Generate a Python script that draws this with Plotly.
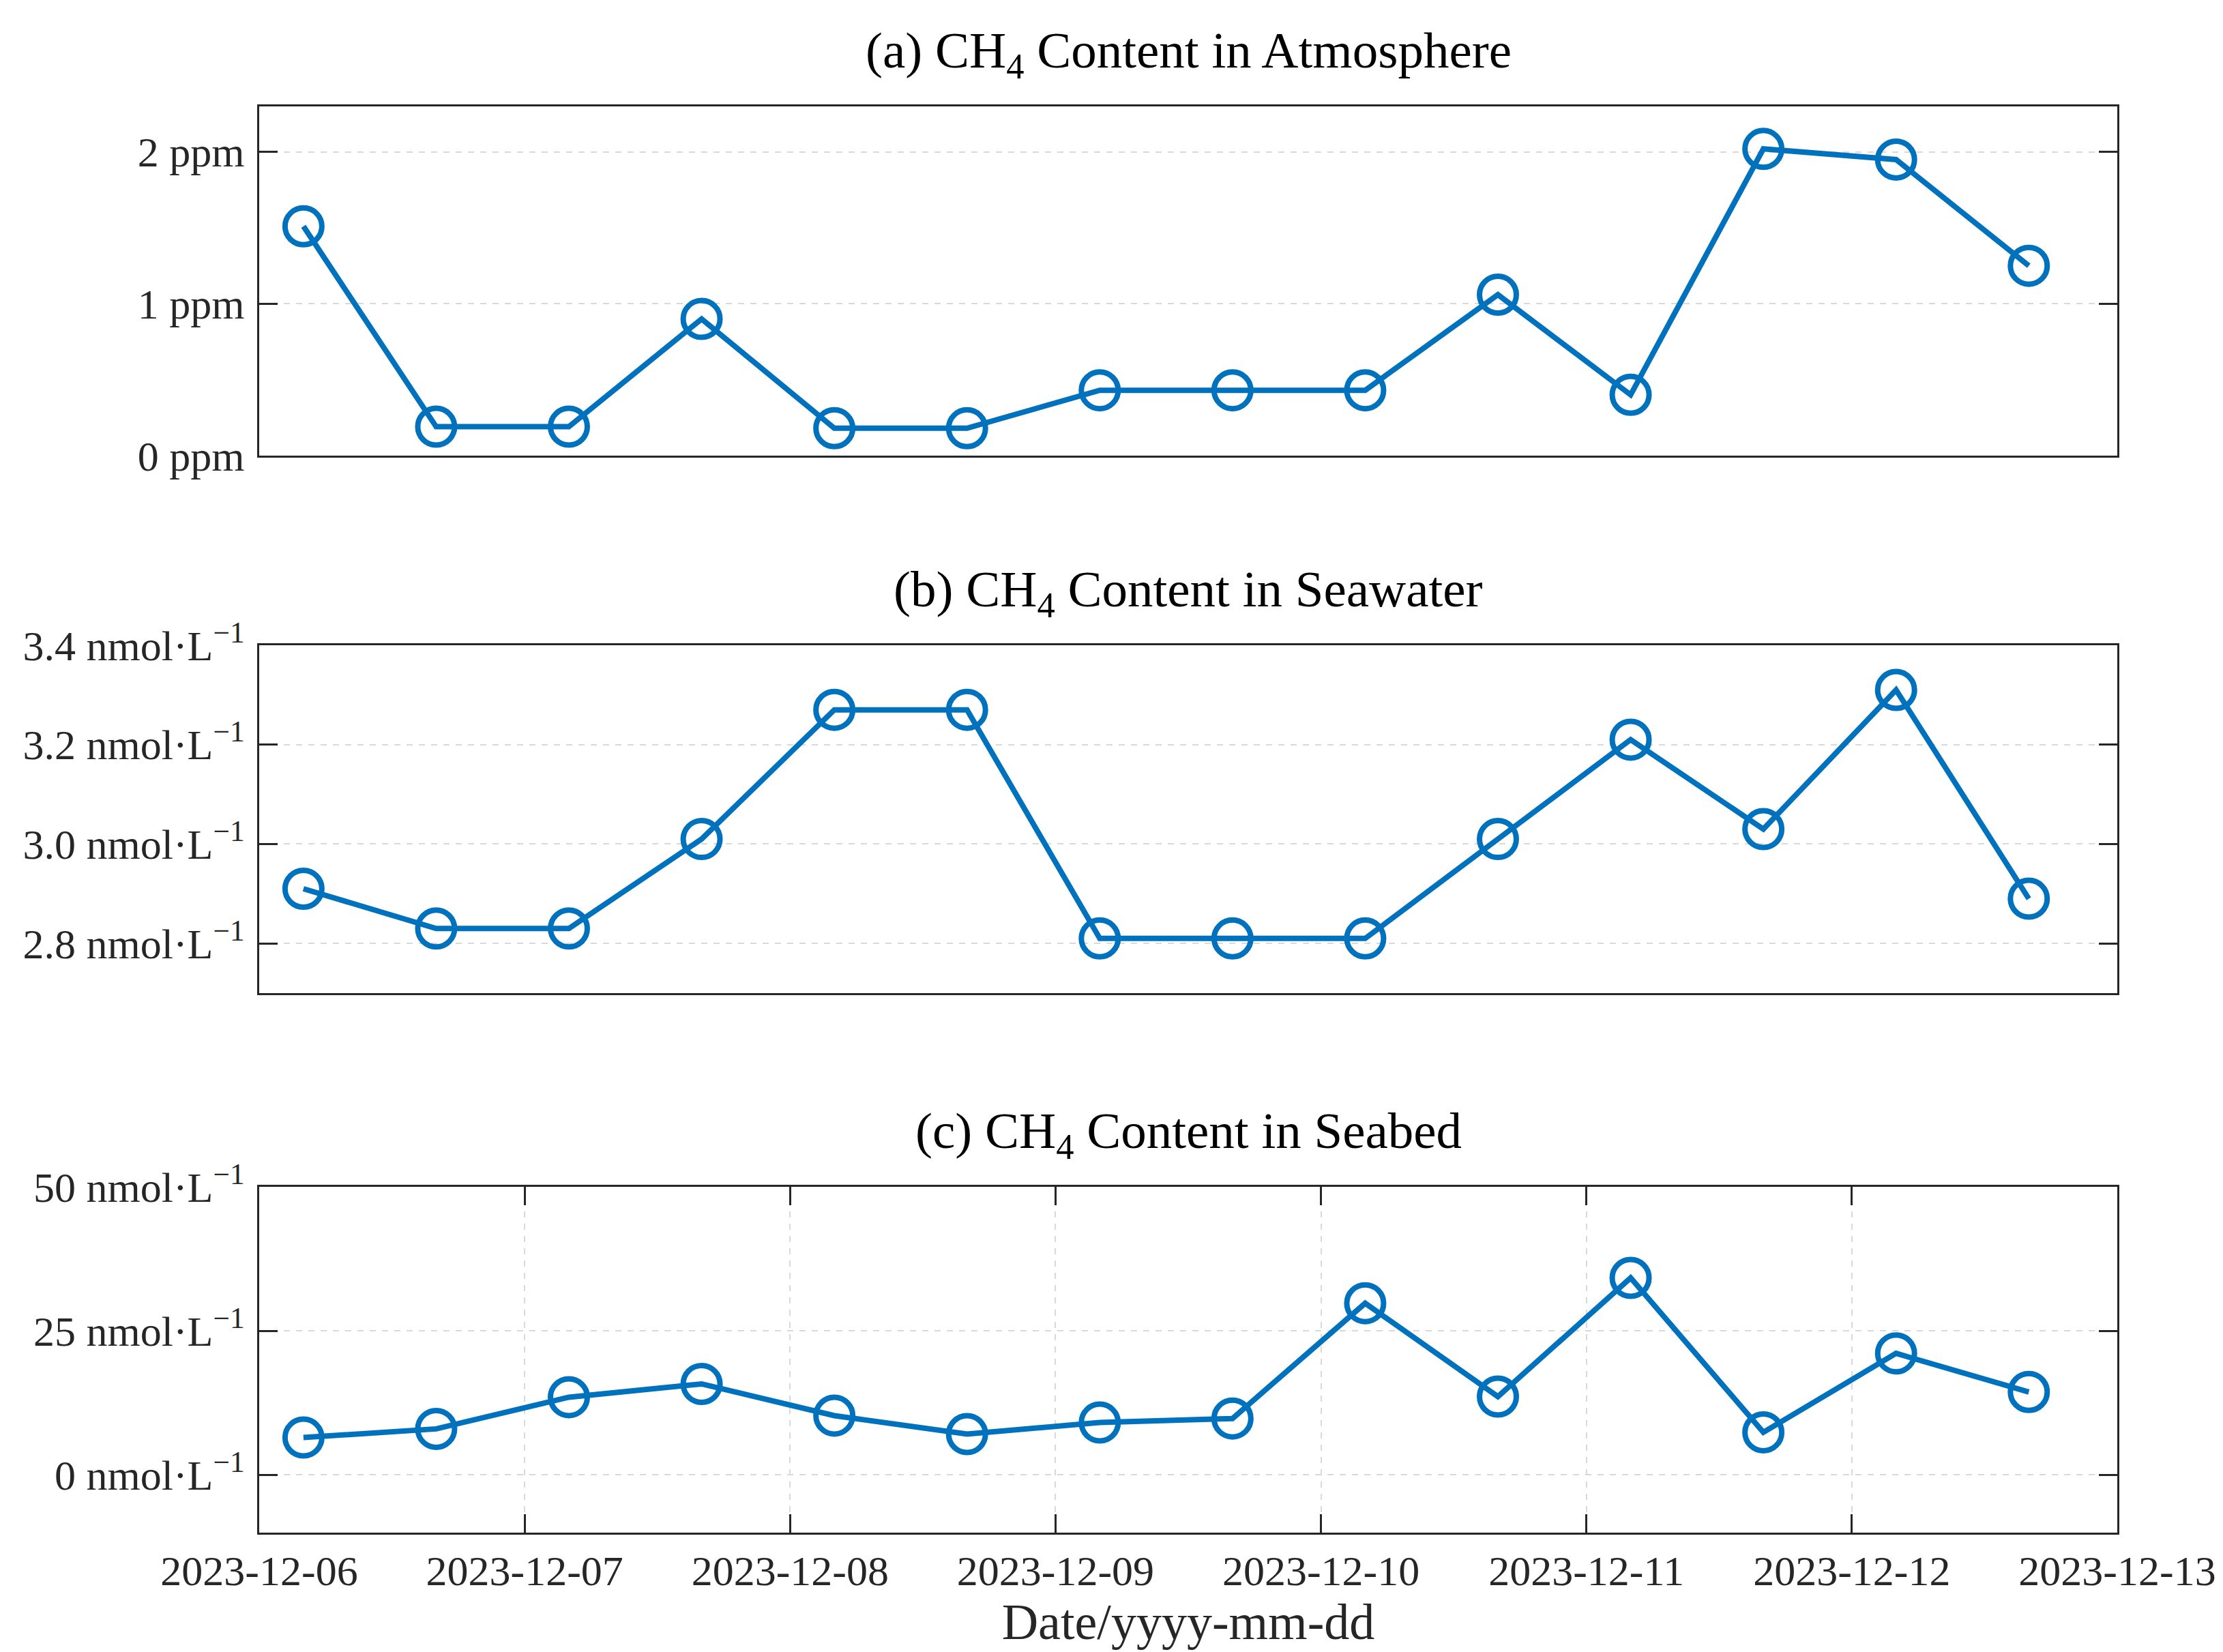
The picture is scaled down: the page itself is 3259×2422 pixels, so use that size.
import plotly.graph_objects as go

# sample times (12 h apart)
times = ["2023-12-06 04:00", "2023-12-06 16:00", "2023-12-07 04:00", "2023-12-07 16:00",
         "2023-12-08 04:00", "2023-12-08 16:00", "2023-12-09 04:00", "2023-12-09 16:00",
         "2023-12-10 04:00", "2023-12-10 16:00", "2023-12-11 04:00", "2023-12-11 16:00",
         "2023-12-12 04:00", "2023-12-12 16:00"]

ch4_air = [1.51, 0.19, 0.19, 0.90, 0.18, 0.18, 0.43, 0.43, 0.43, 1.06, 0.40, 2.02, 1.95, 1.25]
ch4_water = [2.91, 2.83, 2.83, 3.01, 3.27, 3.27, 2.81, 2.81, 2.81, 3.01, 3.21, 3.03, 3.31, 2.89]
ch4_seabed = [6.5, 8.0, 13.5, 15.8, 10.3, 7.1, 9.1, 9.8, 29.8, 13.6, 34.2, 7.4, 21.1, 14.4]

titles = ["(a) CH<sub>4</sub> Content in Atmosphere",
          "(b) CH<sub>4</sub> Content in Seawater",
          "(c) CH<sub>4</sub> Content in Seabed"]

air_ticks = [0, 1, 2]
air_labels = ["0 ppm", "1 ppm", "2 ppm"]
water_ticks = [2.8, 3.0, 3.2, 3.4]
water_labels = ["2.8 nmol·L<sup>−1</sup>", "3.0 nmol·L<sup>−1</sup>",
                "3.2 nmol·L<sup>−1</sup>", "3.4 nmol·L<sup>−1</sup>"]
seabed_ticks = [0, 25, 50]
seabed_labels = ["0 nmol·L<sup>−1</sup>", "25 nmol·L<sup>−1</sup>", "50 nmol·L<sup>−1</sup>"]

W, H = 3259, 2422
blue = "#0072BD"
ink = "#262626"
grid = "#d9d9d9"
font = "Liberation Serif"

domains = [[0.7552, 1.0], [0.3783, 0.6222], [0.0, 0.2425]]
yranges = [[0, 2.3], [2.7, 3.4], [-10, 50]]
series = [ch4_air, ch4_water, ch4_seabed]
ticks = [(air_ticks, air_labels), (water_ticks, water_labels), (seabed_ticks, seabed_labels)]

fig = go.Figure()
layout = dict(width=W, height=H, paper_bgcolor="white", plot_bgcolor="white",
              margin=dict(l=372, r=163, t=148, b=183), showlegend=False,
              font=dict(family=font, size=62, color=ink))

for i in range(3):
    n = "" if i == 0 else str(i + 1)
    fig.add_trace(go.Scatter(
        x=times, y=series[i], mode="lines+markers", xaxis="x" + n, yaxis="y" + n,
        line=dict(color=blue, width=8),
        marker=dict(symbol="circle-open", size=54, color=blue, line=dict(width=8, color=blue)),
        cliponaxis=False))

    last = i == 2
    layout["xaxis" + n] = dict(
        type="date", range=["2023-12-06", "2023-12-13"], domain=[0, 1],
        anchor="y" + n, dtick=86400000, tick0="2023-12-06", tickformat="%Y-%m-%d",
        showline=True, mirror="ticks" if last else True, linecolor=ink, linewidth=3,
        ticks="inside" if last else "", ticklen=27, tickwidth=3, tickcolor=ink,
        showticklabels=last, showgrid=last, gridcolor=grid, gridwidth=2, griddash="dash",
        zeroline=False, tickfont=dict(size=62, color=ink),
        title=dict(text="Date/yyyy-mm-dd", font=dict(size=74, color=ink), standoff=8) if last else None,
        **({} if last else {"matches": "x3"}))
    layout["yaxis" + n] = dict(
        domain=domains[i], anchor="x" + n, range=yranges[i],
        tickvals=ticks[i][0], ticktext=ticks[i][1],
        showline=True, mirror="ticks", linecolor=ink, linewidth=3,
        ticks="inside", ticklen=27, tickwidth=3, tickcolor=ink,
        showgrid=True, gridcolor=grid, gridwidth=2, griddash="dash",
        zeroline=False, tickfont=dict(size=62, color=ink), ticklabelstandoff=6)

fig.update_layout(**layout)

for i in range(3):
    fig.add_annotation(text=titles[i], xref="paper", yref="paper", x=0.5, y=domains[i][1],
                       xanchor="center", yanchor="bottom", yshift=28, showarrow=False,
                       font=dict(family=font, size=75, color="black"))

fig.write_html("out.html")
